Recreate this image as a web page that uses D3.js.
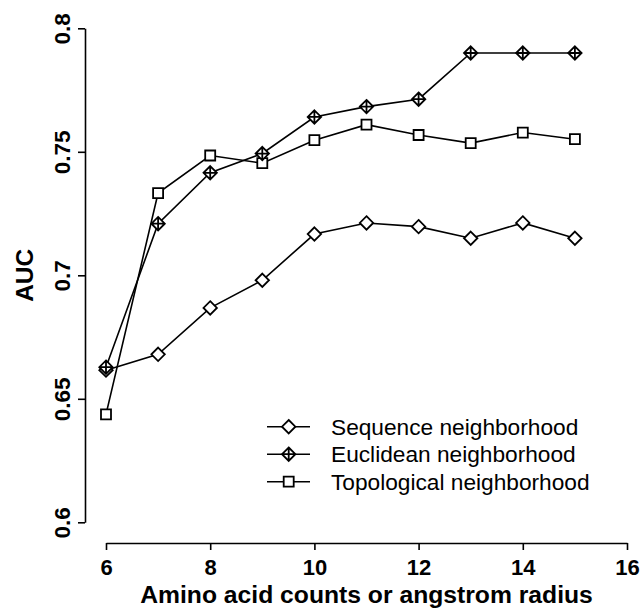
<!DOCTYPE html>
<meta charset="utf-8">
<style>
body { margin: 0; background: #fff; }
text { font-family: "Liberation Sans", Arial, Helvetica, sans-serif; fill: #000; }
.axis path, .axis line { stroke: #000; stroke-width: 1.6px; }
.series { fill: none; stroke: #000; stroke-width: 1.6px; }
.mark { fill: #fff; stroke: #000; stroke-width: 1.8px; }
</style>
<body>
<div id="chart"></div>
<script src="https://d3js.org/d3.v7.min.js"></script>
<script>

var WIDTH = 641;
var HEIGHT = 608;

// values
var radius = [6, 7, 8, 9, 10, 11, 12, 13, 14, 15];
var sequenceAUC = [0.6616, 0.668, 0.6868, 0.698, 0.7167, 0.7212, 0.7197, 0.715, 0.7212, 0.715];
var euclideanAUC = [0.6628, 0.7209, 0.7415, 0.7493, 0.7641, 0.7683, 0.7713, 0.790, 0.790, 0.790];
var topologicalAUC = [0.6437, 0.7333, 0.7485, 0.7454, 0.7547, 0.761, 0.7568, 0.7535, 0.7578, 0.7551];
var seriesNames = ['Sequence neighborhood', 'Euclidean neighborhood', 'Topological neighborhood'];
var seriesShapes = ['diamond', 'diamondplus', 'square'];
var xTicks = [6, 8, 10, 12, 14, 16];
var yTicks = [0.6, 0.65, 0.7, 0.75, 0.8];

var X_LEFT = 106, X_RIGHT = 627;
var Y_BOTTOM = 522.3, Y_TOP = 28.3;
var X_AXIS_Y = 543;
var Y_AXIS_X = 85;

var svg = d3.select('#chart').append('svg')
    .attr('width', WIDTH)
    .attr('height', HEIGHT)
    .style('background', 'white');

var x = d3.scaleLinear().domain([6, 16]).range([X_LEFT, X_RIGHT]);
var y = d3.scaleLinear().domain([0.6, 0.8]).range([Y_BOTTOM, Y_TOP]);

// marker paths centred on 0,0
var D = 6.7, S = 5;
var shapePath = function(shape) {
  if (shape == 'square') {
    return 'M' + (-S) + ',' + (-S) + 'H' + S + 'V' + S + 'H' + (-S) + 'Z';
  }
  var p = 'M0,' + (-D) + 'L' + D + ',0L0,' + D + 'L' + (-D) + ',0Z';
  if (shape == 'diamondplus') {
    p += 'M0,' + (-D) + 'V' + D + 'M' + (-D) + ',0H' + D;
  }
  return p;
};

// axes
var xAxis = d3.axisBottom(x).tickValues(xTicks).tickSize(7).tickSizeOuter(0).tickPadding(9);
var gx = svg.append('g')
    .attr('class', 'axis')
    .attr('transform', 'translate(0,' + X_AXIS_Y + ')')
    .call(xAxis);
gx.selectAll('text')
    .style('font-size', '22px')
    .style('font-weight', 'bold');

var yAxis = d3.axisLeft(y).tickValues(yTicks).tickSize(7).tickSizeOuter(0)
    .tickFormat(function(d) { return String(+d.toFixed(2)); });
var gy = svg.append('g')
    .attr('class', 'axis')
    .attr('transform', 'translate(' + Y_AXIS_X + ',0)')
    .call(yAxis);
gy.selectAll('text')
    .attr('transform', 'rotate(-90)')
    .attr('x', 0)
    .attr('y', -15)
    .attr('dy', 0)
    .attr('text-anchor', 'middle')
    .style('font-size', '22.5px')
    .style('font-weight', 'bold');

// axis titles
svg.append('text')
    .attr('x', (X_LEFT + X_RIGHT) / 2)
    .attr('y', 603)
    .attr('text-anchor', 'middle')
    .style('font-size', '24.7px')
    .style('font-weight', 'bold')
    .text('Amino acid counts or angstrom radius');
svg.append('text')
    .attr('transform', 'translate(33,' + ((Y_TOP + Y_BOTTOM) / 2) + ') rotate(-90)')
    .attr('text-anchor', 'middle')
    .style('font-size', '24.5px')
    .style('font-weight', 'bold')
    .text('AUC');

// series, drawn topological first so the diamonds sit on top
var allSeries = [
  {name: seriesNames[2], shape: seriesShapes[2], values: topologicalAUC},
  {name: seriesNames[0], shape: seriesShapes[0], values: sequenceAUC},
  {name: seriesNames[1], shape: seriesShapes[1], values: euclideanAUC}
];

var line = d3.line()
    .x(function(d) { return x(d[0]); })
    .y(function(d) { return y(d[1]); });

allSeries.forEach(function(s) {
  var pts = d3.zip(radius, s.values);
  svg.append('path')
      .attr('class', 'series')
      .attr('d', line(pts));
  svg.selectAll(null)
      .data(pts)
      .enter().append('path')
      .attr('class', 'mark')
      .attr('transform', function(d) { return 'translate(' + x(d[0]) + ',' + y(d[1]) + ')'; })
      .attr('d', shapePath(s.shape));
});

// legend
var LEG_X = 267, LEG_Y = 426.7, LEG_STEP = 27.5;
var leg = svg.append('g');
seriesNames.forEach(function(name, i) {
  var ly = LEG_Y + i * LEG_STEP;
  leg.append('line')
      .attr('x1', LEG_X).attr('x2', LEG_X + 43)
      .attr('y1', ly).attr('y2', ly)
      .attr('stroke', '#000')
      .attr('stroke-width', 1.6);
  leg.append('path')
      .attr('class', 'mark')
      .attr('transform', 'translate(' + (LEG_X + 21.7) + ',' + ly + ')')
      .attr('d', shapePath(seriesShapes[i]));
  leg.append('text')
      .attr('x', 331)
      .attr('y', ly)
      .attr('dy', '0.36em')
      .style('font-size', '22.7px')
      .text(name);
});

</script>
